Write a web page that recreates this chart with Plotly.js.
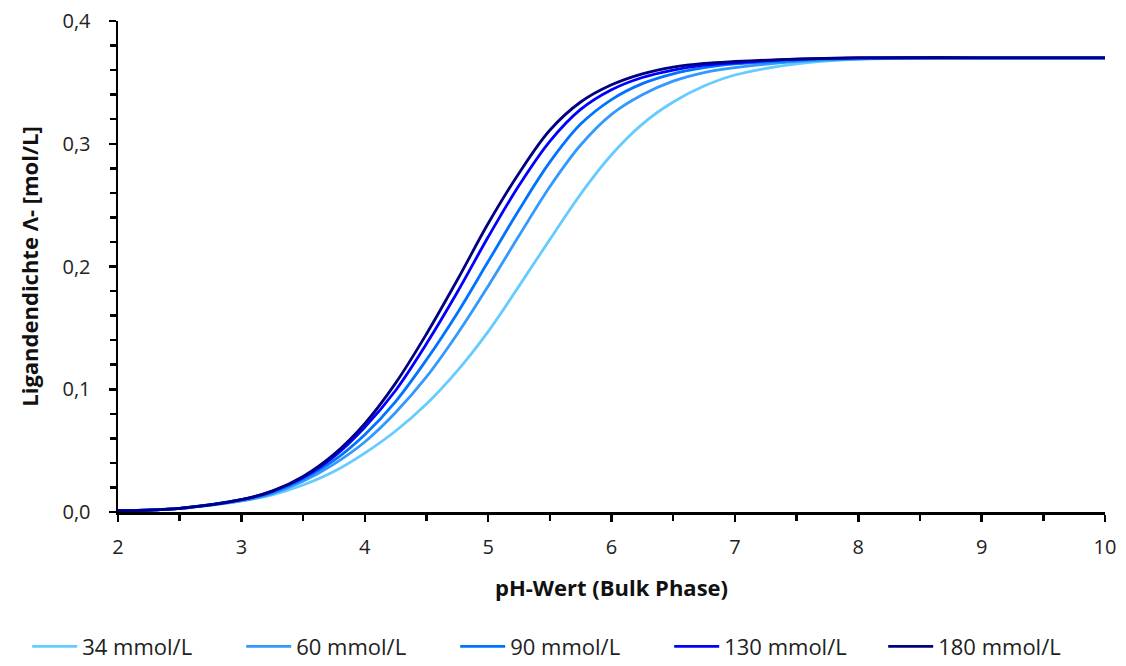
<!DOCTYPE html>
<html><head><meta charset="utf-8">
<script src="https://cdn.plot.ly/plotly-3.0.1.min.js"></script>
<style>html,body{margin:0;padding:0;background:#fff}#chart{width:1126px;height:666px}</style>
</head><body><div id="chart"></div>
<script>
const pH = [2, 2.5, 3, 3.25, 3.5, 3.75, 4, 4.25, 4.5, 4.75, 5, 5.25, 5.5, 5.75, 6, 6.25, 6.5, 6.75, 7, 7.5, 8, 9, 10];
const seriesNames = ['34 mmol/L', '60 mmol/L', '90 mmol/L', '130 mmol/L', '180 mmol/L'];
const c34  = [0.001, 0.003, 0.009, 0.014, 0.022, 0.033, 0.048, 0.066, 0.088, 0.115, 0.147, 0.184, 0.222, 0.259, 0.291, 0.316, 0.334, 0.347, 0.356, 0.365, 0.369, 0.370, 0.370];
const c60  = [0.001, 0.003, 0.009, 0.015, 0.025, 0.039, 0.057, 0.081, 0.110, 0.145, 0.184, 0.225, 0.265, 0.299, 0.324, 0.340, 0.351, 0.358, 0.362, 0.367, 0.369, 0.370, 0.370];
const c90  = [0.001, 0.003, 0.010, 0.016, 0.027, 0.042, 0.063, 0.090, 0.124, 0.162, 0.204, 0.246, 0.285, 0.316, 0.336, 0.349, 0.357, 0.362, 0.365, 0.368, 0.370, 0.370, 0.370];
const c130 = [0.001, 0.003, 0.010, 0.017, 0.028, 0.045, 0.069, 0.099, 0.137, 0.179, 0.224, 0.266, 0.302, 0.328, 0.344, 0.354, 0.360, 0.364, 0.366, 0.369, 0.370, 0.370, 0.370];
const c180 = [0.001, 0.003, 0.010, 0.017, 0.029, 0.047, 0.072, 0.105, 0.145, 0.189, 0.235, 0.276, 0.311, 0.334, 0.348, 0.357, 0.3625, 0.3655, 0.367, 0.369, 0.370, 0.370, 0.370];
const seriesValues = [c34, c60, c90, c130, c180];
const colors = ['#66ccff', '#3399ff', '#0073ff', '#0000ff', '#000080'];

const font = '"Open Sans", "Noto Sans", "Liberation Sans", sans-serif';
const traces = seriesNames.map((n, i) => ({
  x: pH, y: seriesValues[i], name: n, type: 'scatter', mode: 'lines',
  line: {color: colors[i], width: 2.8, shape: 'spline', smoothing: 1}
}));

const layout = {
  width: 1126, height: 666,
  margin: {l: 118, r: 21, t: 21, b: 154, autoexpand: false},
  paper_bgcolor: '#fff', plot_bgcolor: '#fff',
  separators: ',.',
  font: {family: font, size: 20, color: '#222'},
  showlegend: true,
  legend: {orientation: 'h', x: -0.092, xanchor: 'left',
           y: -0.274, yanchor: 'middle',
           font: {family: font, size: 22, color: '#222'}, entrywidth: 154, itemwidth: 45, tracegroupgap: 0},
  xaxis: {range: [2, 10], dtick: 1, tick0: 2, showgrid: false, zeroline: false,
          showline: true, linecolor: '#000', linewidth: 2.5,
          ticks: 'outside', ticklen: 7, tickwidth: 2.5, tickcolor: '#000', ticklabelstandoff: 8,
          minor: {dtick: 0.5, ticks: 'outside', ticklen: 6, tickwidth: 2.5, tickcolor: '#000', showgrid: false},
          tickfont: {family: font, size: 20, color: '#222'},
          title: {text: '<b>pH-Wert (Bulk Phase)</b>', font: {family: font, size: 22, color: '#111'}, standoff: 22}},
  yaxis: {range: [0, 0.4], dtick: 0.1, tick0: 0, tickformat: '.1f', showgrid: false, zeroline: false,
          showline: true, linecolor: '#000', linewidth: 2.5,
          ticks: 'outside', ticklen: 7, tickwidth: 2.5, tickcolor: '#000', ticklabelstandoff: 14,
          minor: {dtick: 0.02, ticks: 'outside', ticklen: 6, tickwidth: 2.5, tickcolor: '#000', showgrid: false},
          tickfont: {family: font, size: 20, color: '#222'},
          title: {text: '<b>Ligandendichte Λ- [mol/L]</b>', font: {family: font, size: 22, color: '#111'}, standoff: 18}}
};
Plotly.newPlot('chart', traces, layout, {displayModeBar: false, staticPlot: true});
</script></body></html>
